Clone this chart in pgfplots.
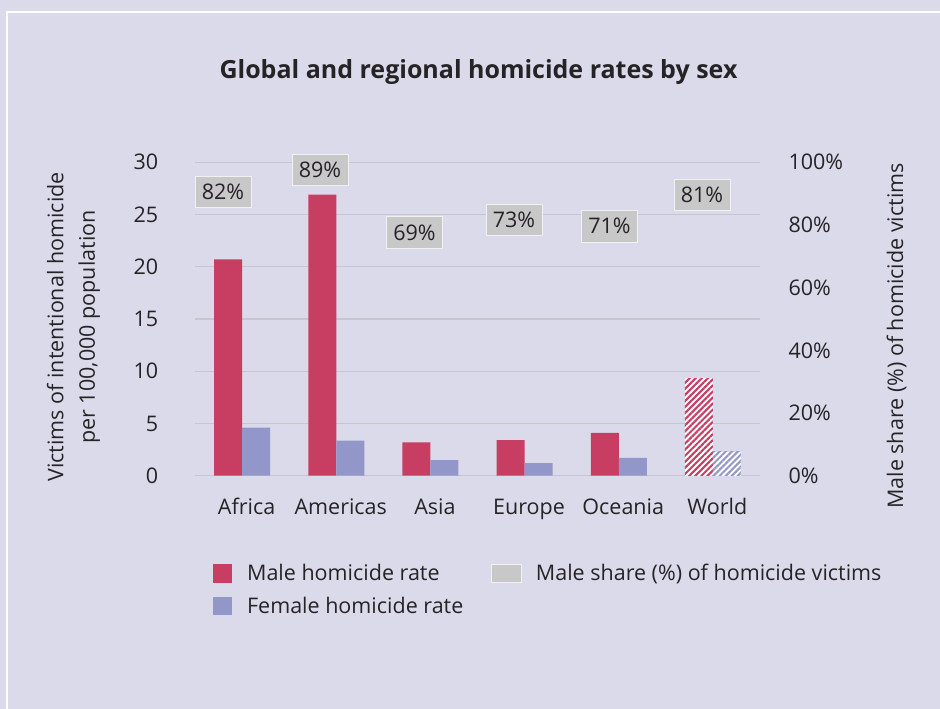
\documentclass[border=0pt]{standalone}
\usepackage{pgfplots}
\pgfplotsset{compat=1.18}
\usepackage{fontspec}
\setmainfont{Open Sans}
\usetikzlibrary{patterns.meta}

\definecolor{bg}{RGB}{219,218,234}
\definecolor{male}{RGB}{200,62,98}
\definecolor{female}{RGB}{146,150,200}
\definecolor{sharebox}{RGB}{200,200,200}
\definecolor{gridc}{RGB}{198,198,205}
\definecolor{txt}{RGB}{38,35,38}

\newcommand\bodyfont{\fontsize{21.5}{25}\selectfont}

\begin{document}
\begin{tikzpicture}
\begin{scope}[x=1pt,y=1pt]
  \fill[bg] (0,0) rectangle (940,709);
  \draw[white, line width=2pt] (7,0) -- (7,697) -- (940,697);
  \node[font=\bfseries\fontsize{25}{30}\selectfont, text=txt, anchor=base, inner sep=0pt]
    at (478.5,630) {Global and regional homicide rates by sex};
\end{scope}

% rates per 100,000
\begin{axis}[
  at={(195pt,233.3pt)}, anchor=south west,
  scale only axis, width=565pt, height=313.4pt,
  xmin=-0.5, xmax=5.5, ymin=0, ymax=30,
  ytick={0,5,...,30},
  xtick={0,...,5},
  xticklabels={Africa,Americas,Asia,Europe,Oceania,World},
  axis line style={draw=none},
  major tick length=0pt,
  ymajorgrids, grid style={gridc, line width=1.3pt},
  /pgf/number format/assume math mode=true,
  tick label style={font=\bodyfont, text=txt},
  xticklabel style={anchor=base, inner sep=0pt, yshift=-38.6pt, xshift=4.5pt},
  yticklabel style={anchor=east, inner sep=0pt, xshift=-36.7pt},
  ylabel={\begin{tabular}[b]{@{}c@{}}Victims of intentional homicide\\per 100,000 population\end{tabular}},
  every axis y label/.style={at={(axis description cs:-0.177,0.4745)}, rotate=90, anchor=base,
    inner sep=0pt, font=\fontsize{21.5}{31.7}\selectfont, text=txt},
  ybar, bar width=28pt,
]
  \addplot[fill=male, draw=none, bar shift=-14pt] coordinates {
    (0,20.7) (1,26.9) (2,3.2) (3,3.4) (4,4.1)
  };
  \addplot[fill=female, draw=none, bar shift=14pt] coordinates {
    (0,4.6) (1,3.35) (2,1.5) (3,1.2) (4,1.7)
  };
  % world: hatched
  \addplot[fill=white, draw=none, bar shift=-14pt,
    postaction={pattern={Lines[angle=45,distance=4.3pt,line width=2.1pt]}, pattern color=male}]
    coordinates {(5,9.35)};
  \addplot[fill=white, draw=none, bar shift=14pt,
    postaction={pattern={Lines[angle=45,distance=4.3pt,line width=2.1pt]}, pattern color=female}]
    coordinates {(5,2.3)};
\end{axis}

% male share of victims, right axis
\begin{axis}[
  at={(195pt,233.3pt)}, anchor=south west,
  scale only axis, width=565pt, height=313.4pt,
  xmin=-0.5, xmax=5.5, ymin=0, ymax=100,
  axis x line=none, axis y line*=right,
  axis line style={draw=none},
  major tick length=0pt,
  ytick={0,20,...,100},
  /pgf/number format/assume math mode=true,
  yticklabel={\pgfmathprintnumber{\tick}\%},
  tick label style={font=\bodyfont, text=txt},
  yticklabel style={anchor=west, inner sep=0pt, xshift=28.3pt},
  ylabel={Male share (\%) of homicide victims},
  every axis y label/.style={at={(axis description cs:1.2531,0.4457)}, rotate=90, anchor=base,
    inner sep=0pt, font=\bodyfont, text=txt},
]
  \addplot[draw=none, mark=none, nodes near coords, point meta=explicit symbolic,
    every node near coord/.style={fill=sharebox, draw=white!75!sharebox, line width=0.8pt,
      minimum width=56pt, minimum height=31.5pt, inner sep=0pt, anchor=center,
      yshift=27pt, font=\bodyfont, text=txt}]
    coordinates {
      (-0.203,82) [82\%]
      (0.827,89)  [89\%]
      (1.831,69)  [69\%]
      (2.888,73)  [73\%]
      (3.902,71)  [71\%]
      (4.884,81)  [81\%]
    };
\end{axis}

% legend
\begin{scope}[x=1pt,y=1pt]
  \fill[male] (213.4,126.3) rectangle (232.1,145);
  \fill[female] (213.4,94.3) rectangle (232.1,112.3);
  \filldraw[fill=sharebox, draw=white!75!sharebox, line width=0.8pt] (491.5,126.7) rectangle (521.4,144.3);
  \node[anchor=base west, inner sep=0pt, font=\bodyfont, text=txt] at (246.9,128.3)
    {Male homicide rate};
  \node[anchor=base west, inner sep=0pt, font=\bodyfont, text=txt] at (246.9,95)
    {Female homicide rate};
  \node[anchor=base west, inner sep=0pt, font=\bodyfont, text=txt] at (535.7,128.3)
    {Male share (\%) of homicide victims};
  \pgfresetboundingbox
  \path (0,0) rectangle (940,709);
\end{scope}
\end{tikzpicture}
\end{document}
